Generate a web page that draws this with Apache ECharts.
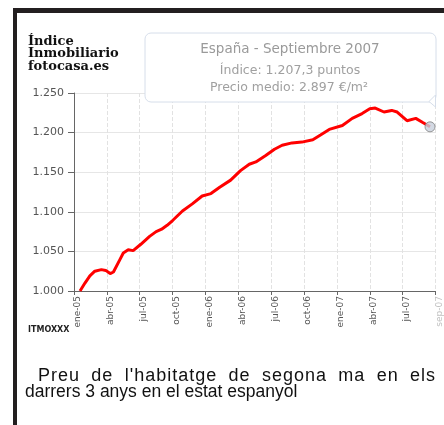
<!DOCTYPE html>
<html><head><meta charset="utf-8">
<script src="https://cdn.jsdelivr.net/npm/echarts@6/dist/echarts.min.js"></script>
<style>html,body{margin:0;padding:0;background:#fff}#c{width:444px;height:425px}</style>
</head><body><div id="c"></div>
<script>
const monthPos = [0.55,1,1.45,1.9,2.5,2.9,3.3,3.6,4.2,4.5,4.95,5.4,6.1,6.9,7.5,8.0,8.5,9,9.9,10.8,11.7,12.5,13.3,14.3,15.2,16,16.6,17.5,18.3,19,19.9,20.8,21.8,22.5,23.3,24.5,25.4,26.3,27,27.5,28.3,29,29.5,30.4,31.2,31.8,32.5];
const indexValues = [1000,1010,1019,1025,1027,1026,1022,1024,1040,1048,1052,1051,1059,1069,1075,1078,1083,1089,1101,1110,1120,1123,1131,1140,1152,1160,1163,1171,1179,1184,1187,1188,1191,1197,1204,1209,1218,1224,1230,1231,1226,1228,1226,1215,1218,1213,1207.3];
const xTickLabels = ['ene-05','abr-05','jul-05','oct-05','ene-06','abr-06','jul-06','oct-06','ene-07','abr-07','jul-07','sep-07'];
const yTickLabels = ['1.000','1.050','1.100','1.150','1.200','1.250'];
const boxLines = ['España - Septiembre 2007','Índice: 1.207,3 puntos','Precio medio: 2.897 €/m²'];
const headingLines = ['Índice','Inmobiliario','fotocasa.es'];
const captionLines = ["Preu de l'habitatge de segona ma en els","darrers 3 anys en el estat espanyol"];

const lineData = monthPos.map((m,i)=>[m,indexValues[i]]);
const last = lineData[lineData.length-1];

// first caption line justified: slight letter spacing, remaining space spread over word gaps
const capFont1 = '18px "Liberation Sans"';
const capFont2 = '17.5px "Liberation Sans"';
const cv = document.createElement('canvas').getContext('2d');
cv.font = capFont1;
const words = captionLines[0].split(' ');
const ls = 1;
const wW = words.map(w=>cv.measureText(w).width + (w.length-1)*ls);
const jx0 = 38, jx1 = 435;
const gap = (jx1 - jx0 - wW.reduce((a,b)=>a+b,0)) / (words.length-1);
const captionGraphics = [];
let wx = jx0;
words.forEach((w,wi)=>{
  for (let i = 0; i < w.length; i++) {
    const x = wx + cv.measureText(w.slice(0,i)).width + i*ls;
    captionGraphics.push({type:'text',x:x,y:376,style:{text:w[i],font:capFont1,fill:'#111',verticalAlign:'middle'}});
  }
  wx += wW[wi] + gap;
});
captionGraphics.push({type:'text',x:25,y:392,style:{text:captionLines[1],font:capFont2,fill:'#111',verticalAlign:'middle'}});

const chart = echarts.init(document.getElementById('c'));
chart.setOption({
  animation:false,
  grid:{left:74,top:93,width:362,height:198},
  xAxis:{type:'value',min:0,max:33,interval:3,
    axisLine:{lineStyle:{color:'#666',width:1}},
    axisTick:{show:true,length:4,lineStyle:{color:'#666'}},
    splitLine:{show:true,lineStyle:{color:'#e2e2e2',type:'dashed'}},
    axisLabel:{rotate:90,margin:5,fontFamily:'DejaVu Sans',fontSize:9,color:'#555',padding:[8,0,0,0],
      formatter:(v)=>{const i=Math.round(v/3);const t=xTickLabels[i]||'';return i===11?'{l|'+t+'}':t;},
      rich:{l:{color:'#c0c0c0',fontFamily:'DejaVu Sans',fontSize:9}}}},
  yAxis:{type:'value',min:1000,max:1250,interval:50,
    axisLine:{show:true,lineStyle:{color:'#666',width:1}},
    axisTick:{show:true,length:6,lineStyle:{color:'#666'}},
    splitLine:{show:true,lineStyle:{color:'#e6e6e6'}},
    axisLabel:{margin:10,fontFamily:'DejaVu Sans',fontSize:11,color:'#555',
      formatter:(v)=>yTickLabels[Math.round((v-1000)/50)]}},
  series:[
    {type:'line',data:lineData,showSymbol:false,smooth:false,lineStyle:{color:'#ff0000',width:3},z:3},
    {type:'scatter',data:[last],symbolSize:10,itemStyle:{color:'#c8d0dc',borderColor:'#808080',borderWidth:1},z:4}
  ],
  graphic:[
    {type:'rect',shape:{x:13,y:8,width:431,height:5},style:{fill:'#231f20'}},
    {type:'rect',shape:{x:13,y:8,width:4,height:417},style:{fill:'#231f20'}},
    {type:'rect',shape:{x:145,y:33,width:291,height:69,r:6},style:{fill:'#fff',stroke:'#d6deea',lineWidth:1},z:10},
    {type:'polygon',shape:{points:[[429,101.5],[435.5,95],[435.5,107]]},style:{fill:'#fff',stroke:'#d6deea',lineWidth:1},z:10},
    {type:'text',x:290,y:49,style:{text:boxLines[0],fontFamily:'DejaVu Sans',fontSize:13.5,fill:'#9a9a9a',align:'center',verticalAlign:'middle'},z:11},
    {type:'text',x:290,y:71,style:{text:boxLines[1],fontFamily:'DejaVu Sans',fontSize:12.5,fill:'#a0a0a0',align:'center',verticalAlign:'middle'},z:11},
    {type:'text',x:289,y:88,style:{text:boxLines[2],fontFamily:'DejaVu Sans',fontSize:12.5,fill:'#a0a0a0',align:'center',verticalAlign:'middle'},z:11},
    {type:'text',x:28,y:42,style:{text:headingLines[0],fontFamily:'DejaVu Serif',fontWeight:'bold',fontSize:13,fill:'#111',verticalAlign:'middle'}},
    {type:'text',x:28,y:54,style:{text:headingLines[1],fontFamily:'DejaVu Serif',fontWeight:'bold',fontSize:13,fill:'#111',verticalAlign:'middle'}},
    {type:'text',x:28,y:67,style:{text:headingLines[2],fontFamily:'DejaVu Serif',fontWeight:'bold',fontSize:13,fill:'#111',verticalAlign:'middle'}},
    {type:'text',x:28,y:330,style:{text:'ITMOXXX',fontFamily:'DejaVu Sans',fontWeight:'bold',fontSize:8,fill:'#222',verticalAlign:'middle'}}
  ].concat(captionGraphics)
});
</script></body></html>
